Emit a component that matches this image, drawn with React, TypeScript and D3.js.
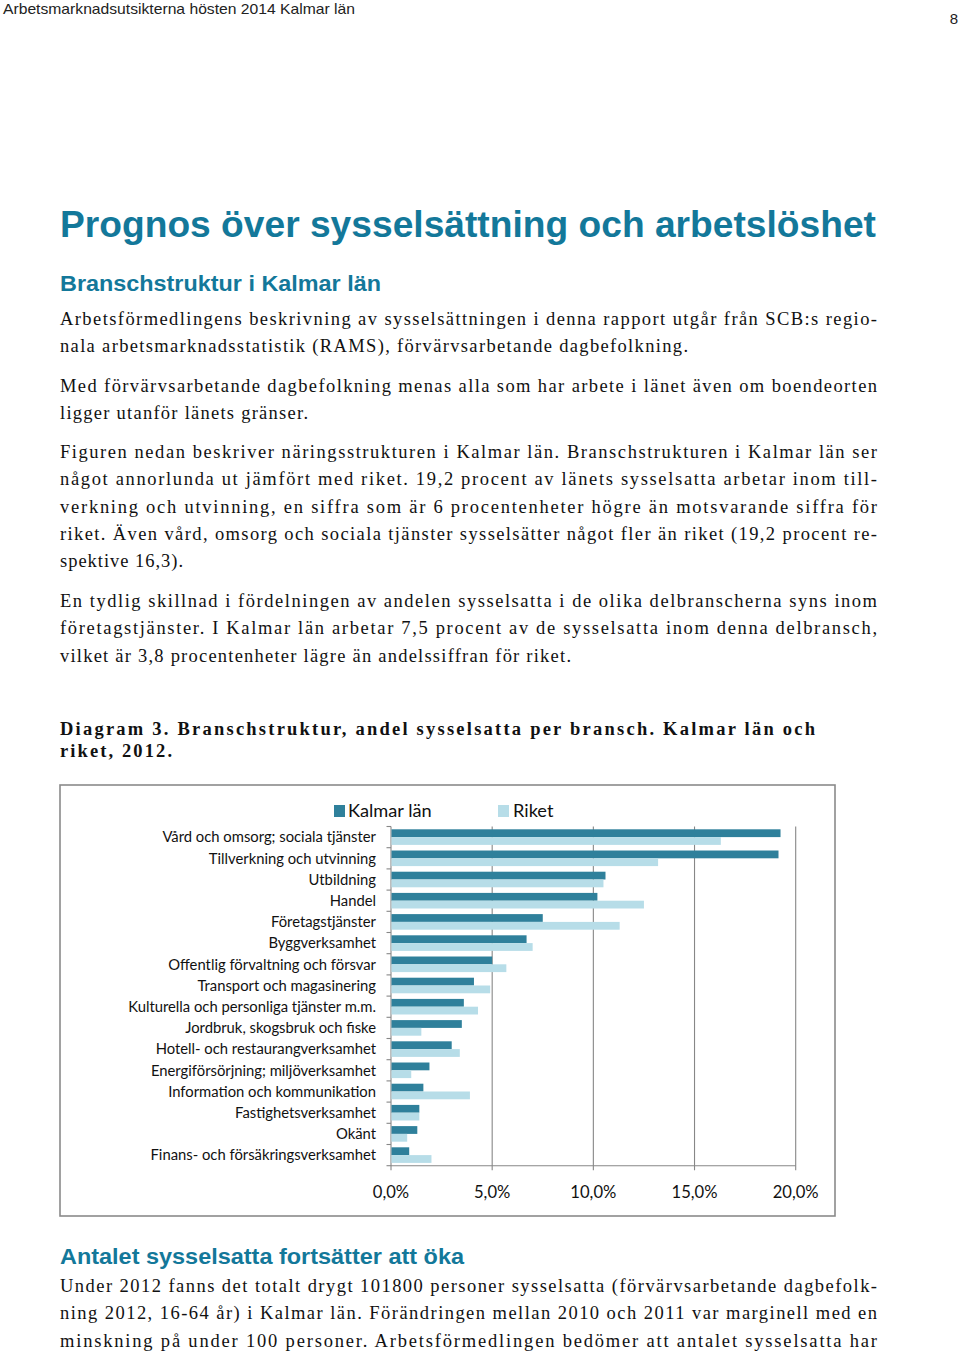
import React from 'react';
import * as d3 from 'd3';

// ---------- data ----------
const categories = [
  'Vård och omsorg; sociala tjänster',
  'Tillverkning och utvinning',
  'Utbildning',
  'Handel',
  'Företagstjänster',
  'Byggverksamhet',
  'Offentlig förvaltning och försvar',
  'Transport och magasinering',
  'Kulturella och personliga tjänster m.m.',
  'Jordbruk, skogsbruk och fiske',
  'Hotell- och restaurangverksamhet',
  'Energiförsörjning; miljöverksamhet',
  'Information och kommunikation',
  'Fastighetsverksamhet',
  'Okänt',
  'Finans- och försäkringsverksamhet',
];
const kalmarValues = [19.25, 19.15, 10.6, 10.2, 7.5, 6.7, 5.0, 4.1, 3.6, 3.5, 3.0, 1.9, 1.6, 1.4, 1.3, 0.9];
const riketValues = [16.3, 13.2, 10.5, 12.5, 11.3, 7.0, 5.7, 4.9, 4.3, 1.5, 3.4, 1.0, 3.9, 1.4, 0.8, 2.0];
const seriesNames = ['Kalmar län', 'Riket'];
const xTickValues = [0, 5, 10, 15, 20];

const headerText = 'Arbetsmarknadsutsikterna hösten 2014 Kalmar län';
const pageNumber = '8';
const titleText = 'Prognos över sysselsättning och arbetslöshet';
const subtitleText = 'Branschstruktur i Kalmar län';
const sectionText = 'Antalet sysselsatta fortsätter att öka';
const captionLines = [
  'Diagram 3. Branschstruktur, andel sysselsatta per bransch. Kalmar län och',
  'riket, 2012.',
];
const para1 = [
  'Arbetsförmedlingens beskrivning av sysselsättningen i denna rapport utgår från SCB:s regio-',
  'nala arbetsmarknadsstatistik (RAMS), förvärvsarbetande dagbefolkning.',
];
const para2 = [
  'Med förvärvsarbetande dagbefolkning menas alla som har arbete i länet även om boendeorten',
  'ligger utanför länets gränser.',
];
const para3 = [
  'Figuren nedan beskriver näringsstrukturen i Kalmar län. Branschstrukturen i Kalmar län ser',
  'något annorlunda ut jämfört med riket. 19,2 procent av länets sysselsatta arbetar inom till-',
  'verkning och utvinning, en siffra som är 6 procentenheter högre än motsvarande siffra för',
  'riket. Även vård, omsorg och sociala tjänster sysselsätter något fler än riket (19,2 procent re-',
  'spektive 16,3).',
];
const para4 = [
  'En tydlig skillnad i fördelningen av andelen sysselsatta i de olika delbranscherna syns inom',
  'företagstjänster. I Kalmar län arbetar 7,5 procent av de sysselsatta inom denna delbransch,',
  'vilket är 3,8 procentenheter lägre än andelssiffran för riket.',
];
const para5 = [
  'Under 2012 fanns det totalt drygt 101800 personer sysselsatta (förvärvsarbetande dagbefolk-',
  'ning 2012, 16-64 år) i Kalmar län. Förändringen mellan 2010 och 2011 var marginell med en',
  'minskning på under 100 personer. Arbetsförmedlingen bedömer att antalet sysselsatta har',
];

// ---------- layout ----------
const W = 960;
const H = 1352;
const TEAL = '#13789a';
const DARK = '#2f809b';
const LIGHT = '#b7dde8';
const GRID = '#878787';
const LEFT = 60;
const RIGHT = 877;
const LINE = 27.3;

const fmt = d3.formatLocale({ decimal: ',', thousands: ' ', grouping: [3], currency: ['', ' kr'] }).format('.1%');

type ParaProps = { lines: string[]; y0: number; lastEnd: number };
const Paragraph = ({ lines, y0, lastEnd }: ParaProps) => (
  <g fontFamily="'Liberation Serif', 'Times New Roman', serif" fontSize={18.5} fill="#111">
    {lines.map((t, i) => {
      const end = i === lines.length - 1 ? lastEnd : RIGHT;
      return (
        <text key={i} x={LEFT} y={y0 + i * LINE} textLength={end - LEFT} lengthAdjust="spacing">
          {t}
        </text>
      );
    })}
  </g>
);

const Chart = () => {
  const plotTop = 826.5;
  const plotBottom = 1165.7;
  const x0 = 391;
  const x1 = 795.7;
  const x = d3.scaleLinear().domain([0, 20]).range([x0, x1]);
  const y = d3.scaleBand<string>().domain(categories).range([plotTop, plotBottom]).paddingInner(0).paddingOuter(0);
  const bw = y.bandwidth();
  const ys = d3.scaleBand<string>().domain(seriesNames).range([0, bw]).paddingInner(0).paddingOuter(0.36);
  const values = [kalmarValues, riketValues];
  const colors = [DARK, LIGHT];
  const boundaries = d3.range(categories.length + 1).map((i) => plotTop + i * bw);

  return (
    <g>
      <rect x={60} y={785} width={775} height={431} fill="#fff" stroke="#8a8a8a" strokeWidth={1.6} />
      {/* legend */}
      <g fontFamily="Lato, 'Open Sans', sans-serif" fontSize={18.2} fill="#111">
        <rect x={334} y={805} width={11} height={12} fill={DARK} />
        <text x={348} y={817}>{seriesNames[0]}</text>
        <rect x={498} y={805} width={11} height={12} fill={LIGHT} />
        <text x={513} y={817}>{seriesNames[1]}</text>
      </g>
      {/* gridlines */}
      {xTickValues.map((v) => (
        <line key={v} x1={x(v)} x2={x(v)} y1={plotTop} y2={plotBottom + 4.5} stroke={GRID} strokeWidth={1.1} />
      ))}
      <line x1={x0} x2={x1} y1={plotBottom} y2={plotBottom} stroke={GRID} strokeWidth={1.1} />
      {boundaries.map((b, i) => (
        <line key={i} x1={x0 - 4.5} x2={x0} y1={b} y2={b} stroke={GRID} strokeWidth={1.1} />
      ))}
      {/* bars */}
      {categories.map((c, i) => (
        <g key={c}>
          {seriesNames.map((s, j) => (
            <rect
              key={s}
              x={x(0) + 0.5}
              y={(y(c) as number) + (ys(s) as number)}
              width={x(values[j][i]) - x(0) - 0.5}
              height={ys.bandwidth()}
              fill={colors[j]}
            />
          ))}
        </g>
      ))}
      {/* category labels */}
      <g fontFamily="Lato, 'Open Sans', sans-serif" fontSize={14.8} fill="#111" textAnchor="end">
        {categories.map((c) => (
          <text key={c} x={376} y={(y(c) as number) + bw / 2} dy="0.36em">
            {c}
          </text>
        ))}
      </g>
      {/* x tick labels */}
      <g fontFamily="Lato, 'Open Sans', sans-serif" fontSize={16.6} fill="#111" textAnchor="middle">
        {xTickValues.map((v) => (
          <text key={v} x={x(v)} y={1197.5}>
            {fmt(v / 100)}
          </text>
        ))}
      </g>
    </g>
  );
};

export default function App() {
  return (
    <svg
      width={W}
      height={H}
      viewBox={`0 0 ${W} ${H}`}
      style={{ position: 'absolute', left: 0, top: 0, display: 'block', background: '#fff' }}
    >
      <rect x={0} y={0} width={W} height={H} fill="#fff" />
      <text
        x={3}
        y={14}
        fontFamily="'Liberation Sans Narrow', 'Liberation Sans', Arial, sans-serif"
        fontSize={14.5}
        fill="#222"
        textLength={352}
        lengthAdjust="spacingAndGlyphs"
      >
        {headerText}
      </text>
      <text x={958} y={24} textAnchor="end" fontFamily="'Liberation Sans', Arial, sans-serif" fontSize={15} fill="#222">
        {pageNumber}
      </text>
      <text
        x={LEFT}
        y={237}
        fontFamily="'Liberation Sans', Arial, sans-serif"
        fontWeight="bold"
        fontSize={36}
        fill={TEAL}
        textLength={816}
        lengthAdjust="spacingAndGlyphs"
      >
        {titleText}
      </text>
      <text
        x={LEFT}
        y={290.5}
        fontFamily="'Liberation Sans', Arial, sans-serif"
        fontWeight="bold"
        fontSize={21.5}
        fill={TEAL}
        textLength={321}
        lengthAdjust="spacingAndGlyphs"
      >
        {subtitleText}
      </text>

      <Paragraph lines={para1} y0={325} lastEnd={688} />
      <Paragraph lines={para2} y0={391.5} lastEnd={308} />
      <Paragraph lines={para3} y0={458} lastEnd={183} />
      <Paragraph lines={para4} y0={607} lastEnd={571} />

      <g fontFamily="'Liberation Serif', 'Times New Roman', serif" fontWeight="bold" fontSize={18.5} fill="#111">
        <text x={LEFT} y={735} textLength={755} lengthAdjust="spacing">
          {captionLines[0]}
        </text>
        <text x={LEFT} y={757} textLength={112} lengthAdjust="spacing">
          {captionLines[1]}
        </text>
      </g>

      <Chart />

      <text
        x={LEFT}
        y={1263.5}
        fontFamily="'Liberation Sans', Arial, sans-serif"
        fontWeight="bold"
        fontSize={21.5}
        fill={TEAL}
        textLength={404}
        lengthAdjust="spacingAndGlyphs"
      >
        {sectionText}
      </text>
      <Paragraph lines={para5} y0={1292} lastEnd={RIGHT} />
    </svg>
  );
}
